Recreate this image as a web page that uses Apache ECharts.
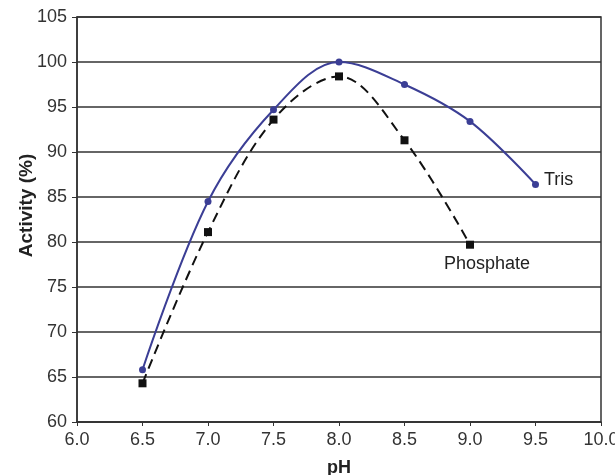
<!DOCTYPE html>
<html>
<head>
<meta charset="utf-8">
<script src="https://cdn.jsdelivr.net/npm/echarts@6/dist/echarts.min.js"></script>
<style>
  html, body { margin: 0; padding: 0; background: #fff; }
  #chart { width: 615px; height: 475px; }
</style>
</head>
<body>
<div id="chart"></div>
<script>
// pH values
var phTris = [6.5, 7.0, 7.5, 8.0, 8.5, 9.0, 9.5];
var phPhosphate = [6.5, 7.0, 7.5, 8.0, 8.5, 9.0];
// activity (%)
var trisActivity = [65.8, 84.5, 94.7, 100.0, 97.5, 93.4, 86.4];
var phosphateActivity = [64.3, 81.1, 93.6, 98.4, 91.3, 79.7];

var chart = echarts.init(document.getElementById('chart'));

// pair up x/y, put a name label on the last point
function buildData(xs, ys, label) {
  return xs.map(function (x, i) {
    var item = { value: [x, ys[i]] };
    if (i === xs.length - 1) item.label = label;
    return item;
  });
}

var font = 'Liberation Sans, Arial, sans-serif';

var option = {
  animation: false,
  backgroundColor: '#fff',
  grid: {
    left: 77, right: 14, top: 17, bottom: 53,
    outerBoundsMode: 'none',
    containLabel: false,
    show: true,
    borderColor: '#333',
    borderWidth: 1.5
  },
  xAxis: {
    type: 'value',
    min: 6, max: 10, interval: 0.5,
    name: 'pH',
    nameLocation: 'middle',
    nameGap: 37,
    nameMoveOverlap: false,
    nameTextStyle: { fontFamily: font, fontSize: 18, fontWeight: 'bold', color: '#222' },
    axisLine: { show: true, lineStyle: { color: '#333', width: 1.5 } },
    axisTick: { show: true, length: 4, lineStyle: { color: '#333' } },
    axisLabel: {
      fontFamily: font, fontSize: 18, color: '#333', margin: 9,
      formatter: function (v) { return v.toFixed(1); }
    },
    splitLine: { show: false }
  },
  yAxis: {
    type: 'value',
    min: 60, max: 105, interval: 5,
    name: 'Activity (%)',
    nameLocation: 'middle',
    nameGap: 41,
    nameMoveOverlap: false,
    nameTextStyle: { fontFamily: font, fontSize: 19, fontWeight: 'bold', color: '#222', padding: [0, 0, 0, 28] },
    axisLine: { show: true, lineStyle: { color: '#333', width: 1.5 } },
    axisTick: { show: true, length: 5, lineStyle: { color: '#333' } },
    axisLabel: { fontFamily: font, fontSize: 18, color: '#333', margin: 10 },
    splitLine: { show: true, lineStyle: { color: '#333', width: 1.5 } }
  },
  series: [{
    name: 'Tris',
    type: 'line',
    smooth: 0.35,
    symbol: 'circle',
    symbolSize: 7,
    itemStyle: { color: '#3b3e95' },
    lineStyle: { color: '#3b3e95', width: 2 },
    data: buildData(phTris, trisActivity, {
      show: true, position: 'right', distance: 5, offset: [0, -4],
      formatter: 'Tris', fontFamily: font, fontSize: 18, color: '#222'
    }),
    z: 3
  }, {
    name: 'Phosphate',
    type: 'line',
    smooth: 0.35,
    symbol: 'rect',
    symbolSize: 8,
    itemStyle: { color: '#111' },
    lineStyle: { color: '#111', width: 2, type: [10, 6] },
    data: buildData(phPhosphate, phosphateActivity, {
      show: true, position: 'bottom', distance: 6, offset: [17, 0],
      formatter: 'Phosphate', fontFamily: font, fontSize: 18, color: '#222'
    }),
    z: 2
  }]
};

chart.setOption(option);
</script>
</body>
</html>
